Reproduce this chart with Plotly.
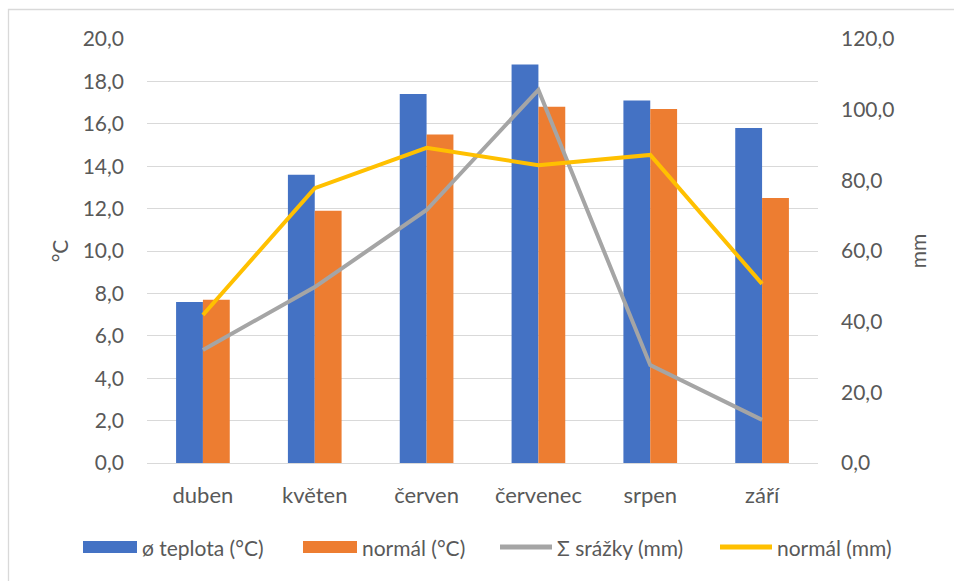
import plotly.graph_objects as go

# Monthly data
months = ["duben", "květen", "červen", "červenec", "srpen", "září"]
temp_avg = [7.6, 13.6, 17.4, 18.8, 17.1, 15.8]       # ø teplota (°C)
temp_normal = [7.7, 11.9, 15.5, 16.8, 16.7, 12.5]    # normál (°C)
precip_sum = [32.0, 49.8, 71.6, 105.6, 27.7, 12.2]   # Σ srážky (mm)
precip_normal = [41.9, 77.8, 89.2, 84.3, 87.2, 50.7] # normál (mm)

left_ticks = [0, 2, 4, 6, 8, 10, 12, 14, 16, 18, 20]
right_ticks = [0, 20, 40, 60, 80, 100, 120]

series_names = ["ø teplota (°C)", "normál (°C)", "Σ srážky (mm)", "normál (mm)"]
series_colors = ["#4472C4", "#ED7D31", "#A5A5A5", "#FFC000"]
series_kinds = ["bar", "bar", "line", "line"]

W, H = 954, 581
ML, MR, MT, MB = 147, 136, 39, 118
PW, PH = W - ML - MR, H - MT - MB

FONT = "Lato, Carlito, Calibri, sans-serif"
GREY_TXT = "#595959"
GRID = "#d9d9d9"

fig = go.Figure()
fig.add_trace(go.Bar(x=months, y=temp_avg, name=series_names[0],
                     marker=dict(color=series_colors[0], line=dict(width=0)), yaxis="y"))
fig.add_trace(go.Bar(x=months, y=temp_normal, name=series_names[1],
                     marker=dict(color=series_colors[1], line=dict(width=0)), yaxis="y"))
fig.add_trace(go.Scatter(x=months, y=precip_sum, name=series_names[2], mode="lines",
                         line=dict(color=series_colors[2], width=4), yaxis="y2"))
fig.add_trace(go.Scatter(x=months, y=precip_normal, name=series_names[3], mode="lines",
                         line=dict(color=series_colors[3], width=4), yaxis="y2"))

# pixel -> paper coordinate helpers
px = lambda v: (v - ML) / PW
py = lambda v: (H - MB - v) / PH

# Outer chart frame (only the left and top edges fall inside the page)
fig.add_shape(type="rect", xref="paper", yref="paper",
              x0=px(8.5), x1=px(W + 5), y0=py(H + 5), y1=py(9.5),
              line=dict(color=GRID, width=1.3), fillcolor="rgba(0,0,0,0)", layer="below")

# Descender of a text line above the frame
fig.add_annotation(text="p", xref="paper", yref="paper", x=px(1), y=py(1.5),
                   xanchor="left", yanchor="bottom", showarrow=False,
                   font=dict(family="Liberation Serif, serif", size=16, color="#000"))

# Legend row below the plot
legend_y = 547
sym_x = [83, 303, 498, 718]
for name, color, kind, x0 in zip(series_names, series_colors, series_kinds, sym_x):
    if kind == "bar":
        fig.add_shape(type="rect", xref="paper", yref="paper",
                      x0=px(x0), x1=px(x0 + 54), y0=py(legend_y + 6), y1=py(legend_y - 6),
                      line=dict(width=0), fillcolor=color)
    else:
        fig.add_shape(type="line", xref="paper", yref="paper",
                      x0=px(x0 + 2), x1=px(x0 + 54), y0=py(legend_y), y1=py(legend_y),
                      line=dict(color=color, width=5))
    fig.add_annotation(text=name, xref="paper", yref="paper", x=px(x0 + 57), y=py(legend_y),
                       xanchor="left", yanchor="middle", showarrow=False,
                       font=dict(size=21, color=GREY_TXT))

fig.update_layout(
    width=W, height=H,
    margin=dict(l=ML, r=MR, t=MT, b=MB),
    paper_bgcolor="white", plot_bgcolor="white",
    barmode="group", bargap=0.52, bargroupgap=0,
    font=dict(family=FONT, size=22, color=GREY_TXT),
    showlegend=False,
    xaxis=dict(tickfont=dict(size=22), showgrid=False, showline=True,
               linecolor=GRID, linewidth=1.3, ticks="", ticklabelstandoff=12),
    yaxis=dict(range=[0, 20], tickvals=left_ticks,
               ticktext=[f"{v:.1f}".replace(".", ",") for v in left_ticks],
               showgrid=True, gridcolor=GRID, gridwidth=1.3, zeroline=False,
               ticks="", ticklabelstandoff=22, tickfont=dict(size=21),
               title=dict(text="°C", font=dict(size=21), standoff=8)),
    yaxis2=dict(range=[0, 120], tickvals=right_ticks,
                ticktext=[f"{v:.1f}".replace(".", ",") for v in right_ticks],
                overlaying="y", side="right", showgrid=False, zeroline=False,
                ticks="", ticklabelstandoff=22, tickfont=dict(size=21),
                title=dict(text="mm", font=dict(size=21), standoff=17)),
)

fig.write_html("out.html")
